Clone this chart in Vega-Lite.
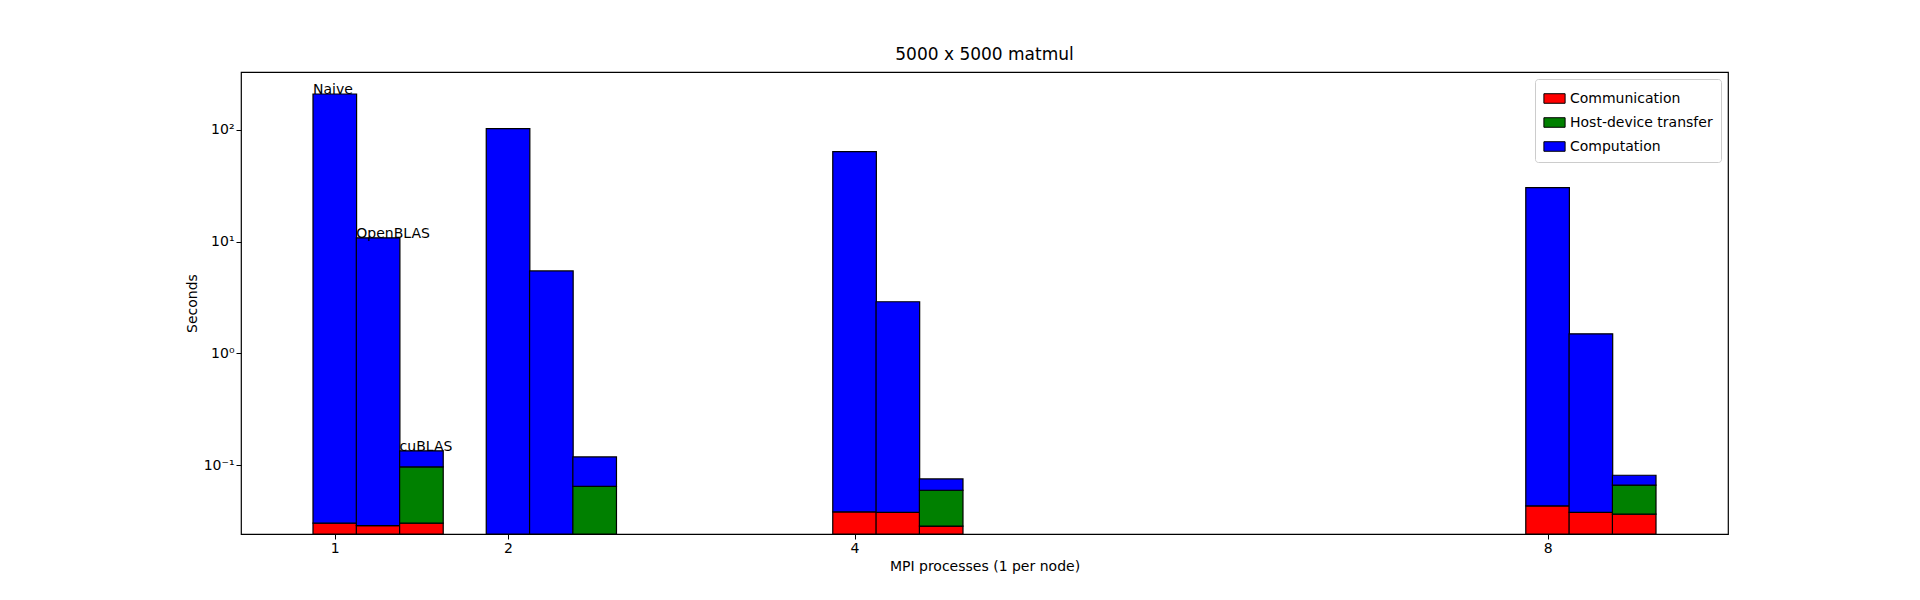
{
  "$schema": "https://vega.github.io/schema/vega-lite/v6.json",
  "width": 1487,
  "height": 462,
  "autosize": {"type": "none"},
  "padding": {"left": 241, "top": 72, "right": 192, "bottom": 66},
  "background": "white",
  "title": {"text": "5000 x 5000 matmul", "fontSize": 17, "fontWeight": "normal", "font": "DejaVu Sans", "offset": 8},
  "datasets": {
    "parts": [
      {"pos": 1, "impl": "Naive", "part": "Communication", "k": 0, "seconds": 0.0305},
      {"pos": 1, "impl": "Naive", "part": "Computation", "k": 2, "seconds": 208},
      {"pos": 1.25, "impl": "OpenBLAS", "part": "Communication", "k": 0, "seconds": 0.029},
      {"pos": 1.25, "impl": "OpenBLAS", "part": "Computation", "k": 2, "seconds": 10.77},
      {"pos": 1.5, "impl": "cuBLAS", "part": "Communication", "k": 0, "seconds": 0.0305},
      {"pos": 1.5, "impl": "cuBLAS", "part": "Host-device transfer", "k": 1, "seconds": 0.0665},
      {"pos": 1.5, "impl": "cuBLAS", "part": "Computation", "k": 2, "seconds": 0.038},
      {"pos": 2, "impl": "Naive", "part": "Computation", "k": 2, "seconds": 102},
      {"pos": 2.25, "impl": "OpenBLAS", "part": "Computation", "k": 2, "seconds": 5.46},
      {"pos": 2.5, "impl": "cuBLAS", "part": "Host-device transfer", "k": 1, "seconds": 0.065},
      {"pos": 2.5, "impl": "cuBLAS", "part": "Computation", "k": 2, "seconds": 0.054},
      {"pos": 4, "impl": "Naive", "part": "Communication", "k": 0, "seconds": 0.0384},
      {"pos": 4, "impl": "Naive", "part": "Computation", "k": 2, "seconds": 63.4},
      {"pos": 4.25, "impl": "OpenBLAS", "part": "Communication", "k": 0, "seconds": 0.038},
      {"pos": 4.25, "impl": "OpenBLAS", "part": "Computation", "k": 2, "seconds": 2.86},
      {"pos": 4.5, "impl": "cuBLAS", "part": "Communication", "k": 0, "seconds": 0.0287},
      {"pos": 4.5, "impl": "cuBLAS", "part": "Host-device transfer", "k": 1, "seconds": 0.0313},
      {"pos": 4.5, "impl": "cuBLAS", "part": "Computation", "k": 2, "seconds": 0.0158},
      {"pos": 8, "impl": "Naive", "part": "Communication", "k": 0, "seconds": 0.0435},
      {"pos": 8, "impl": "Naive", "part": "Computation", "k": 2, "seconds": 30.26},
      {"pos": 8.25, "impl": "OpenBLAS", "part": "Communication", "k": 0, "seconds": 0.038},
      {"pos": 8.25, "impl": "OpenBLAS", "part": "Computation", "k": 2, "seconds": 1.46},
      {"pos": 8.5, "impl": "cuBLAS", "part": "Communication", "k": 0, "seconds": 0.0367},
      {"pos": 8.5, "impl": "cuBLAS", "part": "Host-device transfer", "k": 1, "seconds": 0.0301},
      {"pos": 8.5, "impl": "cuBLAS", "part": "Computation", "k": 2, "seconds": 0.0149}
    ],
    "labels": [
      {"pos": 1, "label": "Naive", "total": 208},
      {"pos": 1.25, "label": "OpenBLAS", "total": 10.8},
      {"pos": 1.5, "label": "cuBLAS", "total": 0.135}
    ]
  },
  "layer": [
    {
      "data": {"name": "parts"},
      "mark": {"type": "bar", "orient": "vertical", "size": 43.6, "stroke": "black", "strokeWidth": 1.2},
      "encoding": {
        "x": {"field": "pos", "type": "quantitative",
          "scale": {"domain": [0.4875, 9.0125], "nice": false, "zero": false},
          "axis": {"values": [1, 2, 4, 8], "title": "MPI processes (1 per node)", "grid": false, "format": "d"}},
        "y": {"field": "seconds", "type": "quantitative", "stack": true,
          "scale": {"type": "log", "domain": [0.0244, 327], "clamp": true, "nice": false},
          "axis": {"values": [0.1, 1, 10, 100], "title": "Seconds", "grid": false,
            "labelExpr": "datum.value < 0.5 ? '10⁻¹' : datum.value < 5 ? '10⁰' : datum.value < 50 ? '10¹' : '10²'"}},
        "color": {"field": "part", "type": "nominal",
          "scale": {"domain": ["Communication", "Host-device transfer", "Computation"], "range": ["#ff0000", "#008000", "#0000ff"]},
          "legend": {"title": null, "orient": "top-right", "offset": 7, "fillColor": "white", "strokeColor": "#cccccc",
            "padding": 8, "cornerRadius": 3, "symbolType": "M-1,-0.45H1V0.45H-1Z", "symbolSize": 450,
            "symbolStrokeColor": "black", "symbolStrokeWidth": 1, "symbolOpacity": 1, "labelFontSize": 14, "labelFont": "DejaVu Sans", "rowPadding": 5}},
        "order": {"field": "k", "type": "quantitative"}
      }
    },
    {
      "data": {"name": "labels"},
      "mark": {"type": "text", "align": "left", "baseline": "bottom", "dx": -21.8, "dy": 3, "fontSize": 14, "font": "DejaVu Sans"},
      "encoding": {
        "x": {"field": "pos", "type": "quantitative"},
        "y": {"field": "total", "type": "quantitative"},
        "text": {"field": "label"}
      }
    }
  ],
  "config": {
    "view": {"stroke": "black", "strokeWidth": 1.2},
    "axis": {"labelFontSize": 14, "titleFontSize": 14, "labelFont": "DejaVu Sans", "titleFont": "DejaVu Sans",
      "titleFontWeight": "normal", "domain": false, "tickColor": "black", "labelColor": "black", "titleColor": "black", "tickSize": 5}
  }
}
